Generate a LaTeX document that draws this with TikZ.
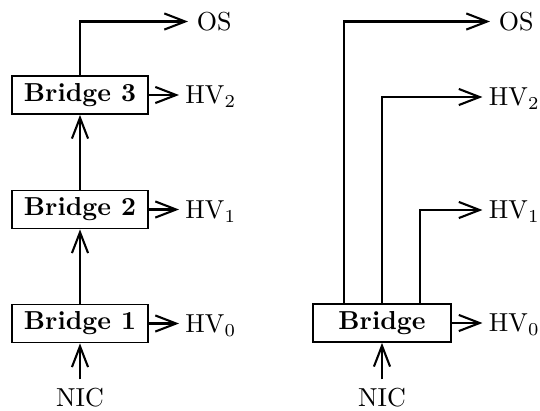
\documentclass[tikz,border=0pt]{standalone}
\usetikzlibrary{arrows.meta}
\begin{document}
\begin{tikzpicture}[x=0.3846pt,y=-0.3846pt,
  box/.style={draw,line width=0.7pt,minimum height=14.6pt,inner sep=0pt,font=\bfseries},
  lbl/.style={inner sep=0pt,text height=6.83pt,text depth=0pt,anchor=west},
  hv/.style={lbl,outer sep=2.5pt},
  oslbl/.style={lbl,outer sep=3.4pt},
  nic/.style={inner sep=3.33pt},
  arr/.style={line width=0.8pt,-{Straight Barb[length=8pt,width=6.2pt]}}]
\useasboundingbox (0,0) rectangle (540,410);
% left
\node[box,minimum width=52.3pt] (b3) at (80,95) {Bridge 3};
\node[box,minimum width=52.3pt] (b2) at (80,209.5) {Bridge 2};
\node[box,minimum width=52.3pt] (b1) at (80,323.5) {Bridge 1};
\node[nic] (nicl) at (80,398) {NIC};
\node[oslbl] (osl) at (188,21.5) {OS};
\node[hv] (hv2l) at (179,95) {HV$_2$};
\node[hv] (hv1l) at (179,209.5) {HV$_1$};
\node[hv] (hv0l) at (179,323.5) {HV$_0$};
\draw[arr] (nicl) -- (b1);
\draw[arr] (b1) -- (b2);
\draw[arr] (b2) -- (b3);
\draw[arr] (b3.east) -- (hv2l.west);
\draw[arr] (b2.east) -- (hv1l.west);
\draw[arr] (b1.east) -- (hv0l.west);
\draw[arr] (b3.north) |- (osl.west);
% right
\node[box,minimum width=53.1pt] (br) at (382,323) {Bridge};
\node[nic] (nicr) at (382,398) {NIC};
\node[oslbl] (osr) at (490,21.5) {OS};
\node[hv] (hv2r) at (482.5,97) {HV$_2$};
\node[hv] (hv1r) at (482.5,210) {HV$_1$};
\node[hv] (hv0r) at (482.5,323) {HV$_0$};
\draw[arr] (nicr) -- (br);
\draw[arr] (br.east) -- (hv0r.west);
\draw[arr] ([xshift=-14.6pt]br.north) |- (osr.west);
\draw[arr] (br.north) |- (hv2r.west);
\draw[arr] ([xshift=14.6pt]br.north) |- (hv1r.west);
\end{tikzpicture}
\end{document}
